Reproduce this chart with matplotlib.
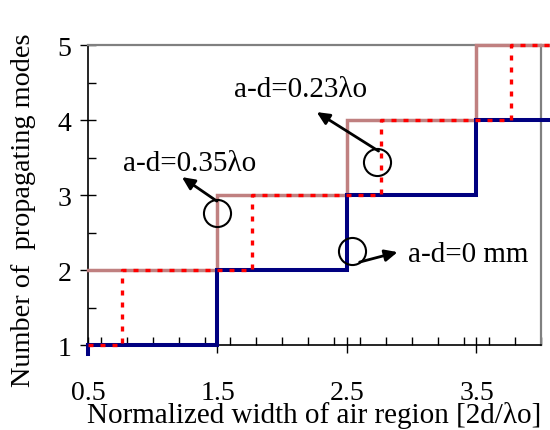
import matplotlib
matplotlib.use("Agg")
import matplotlib.pyplot as plt
from matplotlib.ticker import MultipleLocator, FixedLocator

plt.rcParams['font.family'] = ['Liberation Serif', 'DejaVu Serif']

# Data: step curves. x_* are breakpoints, lev_* the number of modes held
# on [x[i], x[i+1]].
x_ad0 = [0.5, 1.5, 2.5, 3.5, 4.1]
lev_ad0 = [1, 2, 3, 4]
start_ad0 = 0.88          # blue curve starts just below the axis
x_ad035 = [0.5, 1.5, 2.5, 3.5, 4.1]
lev_ad035 = [2, 3, 4, 5]
x_ad023 = [0.5, 0.765, 1.765, 2.765, 3.765, 4.1]
lev_ad023 = [1, 2, 3, 4, 5]

labels = ["a-d=0 mm", "a-d=0.35λo", "a-d=0.23λo"]
circle_x = [2.536, 1.495, 2.729]
circle_y = [2.253, 2.76, 3.44]
arrow_tail = [(2.598, 2.107), (1.495, 2.92), (2.744, 3.587)]
arrow_head = [(2.891, 2.24), (1.225, 3.24), (2.266, 4.107)]
text_pos = [(2.968, 2.213), (0.77, 3.43), (1.626, 4.41)]

xticks = [0.5, 1.5, 2.5, 3.5]
yticks = [1, 2, 3, 4, 5]


def step_path(xs, levels, start=None):
    px, py = [xs[0]], [levels[0] if start is None else start]
    if start is not None:
        px.append(xs[0]); py.append(levels[0])
    for i, lv in enumerate(levels):
        px.append(xs[i + 1]); py.append(lv)
        if i + 1 < len(levels):
            px.append(xs[i + 1]); py.append(levels[i + 1])
    return px, py


fig = plt.figure(figsize=(5.5, 4.31), dpi=100)
ax = fig.add_axes([0.16, 0.197, 0.824, 0.696])

rx, ry = step_path(x_ad035, lev_ad035)
bx, by = step_path(x_ad0, lev_ad0, start_ad0)
dx, dy = step_path(x_ad023, lev_ad023)

ax.plot(rx, ry, color='#C08080', lw=2.5, clip_on=False, zorder=3,
        solid_joinstyle='miter')
ax.plot(bx, by, color='#000080', lw=2.9, clip_on=False, zorder=4,
        solid_joinstyle='miter')
ax.plot(dx, dy, color='#FF0000', lw=2.4, ls=(0, (1.5, 2.1)), clip_on=False,
        zorder=5)

for cx, cy in zip(circle_x, circle_y):
    ax.plot([cx], [cy], marker='o', ms=19.5, mfc='none', mec='black', mew=1.5,
            clip_on=False, zorder=6)
for (tx, ty), (hx, hy) in zip(arrow_tail, arrow_head):
    ax.annotate('', xy=(hx, hy), xytext=(tx, ty),
                arrowprops=dict(arrowstyle='-|>,head_length=0.75,head_width=0.35',
                                color='black', lw=2, shrinkA=0, shrinkB=0),
                zorder=7)
for lab, (tx, ty) in zip(labels, text_pos):
    ax.text(tx, ty, lab, fontsize=21, ha='left', va='center', zorder=8)

ax.set_xlim(0.5, 4.0)
ax.set_ylim(1, 5)
ax.xaxis.set_major_locator(FixedLocator(xticks))
ax.yaxis.set_major_locator(FixedLocator(yticks))
ax.xaxis.set_minor_locator(MultipleLocator(0.2))
ax.yaxis.set_minor_locator(MultipleLocator(0.5))
ax.set_xticklabels([str(v) for v in xticks])
ax.set_yticklabels([str(v) for v in yticks])
ax.tick_params(which='major', direction='inout', length=12, width=1,
               labelsize=20, color='black')
ax.tick_params(axis='x', which='major', pad=19)
ax.tick_params(axis='y', which='major', pad=6)
ax.tick_params(which='minor', direction='in', length=6, width=1, color='black')

for s in ['top', 'right']:
    ax.spines[s].set_color('#808080')
    ax.spines[s].set_linewidth(1.6)
for s in ['left', 'bottom']:
    ax.spines[s].set_color('black')
    ax.spines[s].set_linewidth(1.2)

ax.set_xlabel('Normalized width of air region [2d/λo]', fontsize=21, labelpad=-3)
ax.set_ylabel('Number of  propagating modes', fontsize=20.3)
ax.yaxis.set_label_coords(-0.115, 0.453)

fig.savefig('out.png', dpi=100)
